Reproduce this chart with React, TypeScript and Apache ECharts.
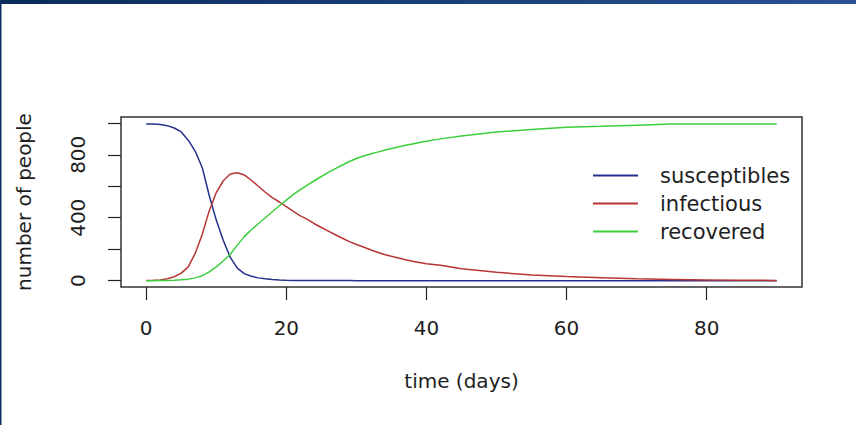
import React, { useEffect, useRef } from "react";
import * as echarts from "echarts";

const days = [
  0, 1, 2, 3, 4, 5, 6, 7, 8, 9, 10, 11, 12, 13, 14, 15, 16, 17, 18, 19, 20,
  21, 22, 23, 24, 25, 26, 27, 28, 29, 30, 31, 32, 33, 34, 35, 36, 37, 38, 39, 40,
  42, 45, 50, 55, 60, 65, 70, 75, 80, 85, 90,
];

const susceptibles = [
  995, 995, 992, 985, 970, 945, 893, 822, 718, 540, 385, 255, 148, 80, 45, 28, 18, 12, 8, 5, 3,
  2, 2, 1, 1, 1, 1, 1, 1, 1, 0, 0, 0, 0, 0, 0, 0, 0, 0, 0, 0,
  0, 0, 0, 0, 0, 0, 0, 0, 0, 0, 0,
];

const infectious = [
  2, 3, 5, 12, 25, 48, 88, 175, 295, 445, 560, 635, 678, 686, 672, 638, 600, 562, 528, 500, 470,
  440, 412, 390, 362, 338, 315, 292, 270, 248, 230, 214, 197, 181, 167, 155, 144, 133, 124, 116, 108,
  98, 76, 53, 37, 26, 19, 12, 8, 5, 3, 2,
];

const recovered = [
  0, 0, 1, 2, 3, 6, 10, 18, 32, 56, 88, 125, 168, 226, 280, 324, 362, 400, 438, 476, 512,
  548, 578, 607, 635, 662, 688, 712, 735, 757, 776, 792, 805, 817, 829, 840, 850, 860, 869, 878, 886,
  901, 920, 945, 960, 975, 981, 988, 995, 996, 996, 996,
];

const seriesNames = ["susceptibles", "infectious", "recovered"];
const xTicks = [0, 20, 40, 60, 80];
const yTicks = [0, 200, 400, 600, 800, 1000];
const yLabels = [0, 400, 800];

const colors = ["#24308c", "#b83535", "#3ccf3c"];
const FONT = "DejaVu Sans";
const TEXT = "#1e1e1e";

export default function App() {
  const ref = useRef<HTMLDivElement>(null);

  useEffect(() => {
    document.body.style.margin = "0";
    const chart = echarts.init(ref.current!, null, { renderer: "svg" });
    const seriesData = [susceptibles, infectious, recovered];
    chart.setOption({
      animation: false,
      backgroundColor: "#ffffff",
      textStyle: { fontFamily: FONT },
      graphic: [
        {
          type: "rect",
          shape: { x: 0, y: 0, width: 856, height: 4 },
          style: {
            fill: new echarts.graphic.LinearGradient(0, 0, 1, 0, [
              { offset: 0, color: "#0a2b5c" },
              { offset: 1, color: "#2a5294" },
            ]),
          },
          silent: true,
        },
        {
          type: "rect",
          shape: { x: 0, y: 0, width: 1.5, height: 425 },
          style: { fill: "#0d2f62" },
          silent: true,
        },
      ],
      grid: {
        left: 121,
        top: 117,
        width: 681,
        height: 170,
        show: true,
        borderColor: "#333333",
        borderWidth: 1.5,
        containLabel: false,
      },
      legend: {
        orient: "vertical",
        left: 588,
        top: 160,
        icon: "rect",
        itemWidth: 45,
        itemHeight: 2,
        itemGap: 7,
        selectedMode: false,
        data: seriesNames,
        textStyle: {
          fontFamily: FONT,
          fontSize: 21,
          lineHeight: 20,
          color: TEXT,
          padding: [0, 0, 0, 17],
        },
      },
      xAxis: {
        type: "value",
        min: -3.6,
        max: 93.6,
        name: "time (days)",
        nameLocation: "middle",
        nameGap: 84,
        nameTextStyle: { fontFamily: FONT, fontSize: 20, color: TEXT },
        axisLine: { show: false, onZero: false },
        splitLine: { show: false },
        axisTick: {
          show: true,
          length: 13,
          customValues: xTicks,
          lineStyle: { color: "#222222", width: 1.2 },
        },
        axisLabel: {
          customValues: xTicks,
          margin: 31,
          fontFamily: FONT,
          fontSize: 20,
          color: TEXT,
        },
      },
      yAxis: {
        type: "value",
        min: -40,
        max: 1040,
        name: "number of people",
        nameLocation: "middle",
        nameGap: 87,
        nameTextStyle: { fontFamily: FONT, fontSize: 20, color: TEXT },
        axisLine: { show: false, onZero: false },
        splitLine: { show: false },
        axisTick: {
          show: true,
          length: 13,
          customValues: yTicks,
          lineStyle: { color: "#222222", width: 1.2 },
        },
        axisLabel: {
          customValues: yLabels,
          rotate: 90,
          margin: 33,
          fontFamily: FONT,
          fontSize: 20,
          color: TEXT,
        },
      },
      series: seriesNames.map((name, k) => ({
        name,
        type: "line",
        symbol: "none",
        showSymbol: false,
        color: colors[k],
        lineStyle: { color: colors[k], width: 1.5 },
        data: days.map((d, i) => [d, seriesData[k][i]]),
      })),
    });
    return () => chart.dispose();
  }, []);

  return (
    <div
      ref={ref}
      style={{ position: "absolute", left: 0, top: 0, width: 856, height: 425 }}
    />
  );
}
